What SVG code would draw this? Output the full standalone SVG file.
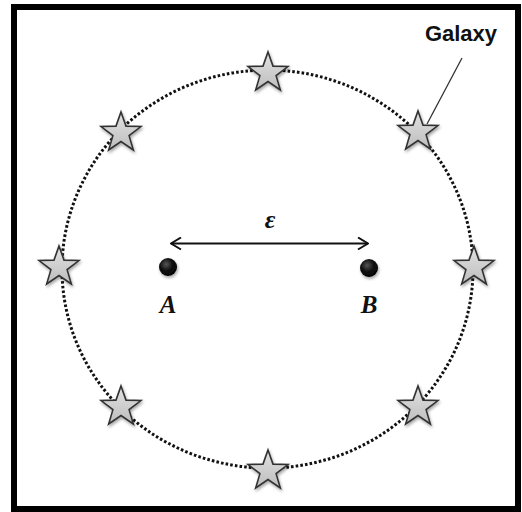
<svg xmlns="http://www.w3.org/2000/svg" width="522" height="512" viewBox="0 0 522 512">
<defs>
<style>
.star{fill:url(#sg);stroke:#333;stroke-width:1.6;stroke-linejoin:miter;filter:url(#sh)}
.dot{fill:url(#dg);filter:url(#sh)}
.lbl{font-family:"Liberation Serif",serif;font-style:italic;font-weight:bold;font-size:25px;fill:#111;text-anchor:middle}
</style>
<linearGradient id="sg" x1="0" y1="0" x2="0" y2="1">
<stop offset="0" stop-color="#e2e2e2"/><stop offset="1" stop-color="#bdbdbd"/>
</linearGradient>
<radialGradient id="dg" cx="0.4" cy="0.35" r="0.7">
<stop offset="0" stop-color="#555"/><stop offset="0.5" stop-color="#111"/><stop offset="1" stop-color="#000"/>
</radialGradient>
<filter id="sh" x="-40%" y="-40%" width="180%" height="180%">
<feDropShadow dx="1" dy="2" stdDeviation="1.8" flood-color="#000" flood-opacity="0.35"/>
</filter>
<path id="star" d="M0,-21 L5,-6.88 L19.97,-6.49 L8.08,2.63 L12.34,16.99 L0,8.5 L-12.34,16.99 L-8.08,2.63 L-19.97,-6.49 L-5,-6.88 Z"/>
<marker id="ah" viewBox="0 0 12 14" refX="11" refY="7" markerWidth="12" markerHeight="14" markerUnits="userSpaceOnUse" orient="auto-start-reverse">
<path d="M1,1 L11,7 L1,13" fill="none" stroke="#111" stroke-width="2"/>
</marker>
</defs>
<rect x="0" y="0" width="522" height="512" fill="#fff"/>
<rect id="frame" x="14" y="7" width="504" height="502" fill="none" stroke="#000" stroke-width="6"/>
<g id="connectors">
<ellipse id="galaxy-orbit" cx="267.5" cy="269" rx="205.5" ry="199" fill="none" stroke="#111" stroke-width="3" stroke-dasharray="2.6 2.1"/>
<line id="epsilon-arrow" x1="171" y1="243.5" x2="368" y2="243.5" stroke="#111" stroke-width="1.8" marker-start="url(#ah)" marker-end="url(#ah)"/>
<line id="galaxy-leader" x1="462" y1="58" x2="427" y2="124" stroke="#333" stroke-width="1.3"/>
</g>
<g id="star-top"><use href="#star" class="star" x="268" y="73"/></g>
<g id="star-upper-left"><use href="#star" class="star" x="121" y="133"/></g>
<g id="star-upper-right"><use href="#star" class="star" x="418" y="132"/></g>
<g id="star-left"><use href="#star" class="star" x="59" y="267"/></g>
<g id="star-right"><use href="#star" class="star" x="474" y="267"/></g>
<g id="star-lower-left"><use href="#star" class="star" x="121" y="407"/></g>
<g id="star-lower-right"><use href="#star" class="star" x="418" y="407"/></g>
<g id="star-bottom"><use href="#star" class="star" x="268" y="471"/></g>
<g id="node-A"><circle class="dot" cx="168" cy="267" r="9"/><text class="lbl" x="168" y="313">A</text></g>
<g id="node-B"><circle class="dot" cx="369" cy="268" r="9"/><text class="lbl" x="369" y="313">B</text></g>
<g id="epsilon-label"><text x="270" y="228" font-family="Liberation Serif,serif" font-style="italic" font-weight="bold" font-size="26" fill="#111" text-anchor="middle">ε</text></g>
<g id="galaxy-label"><text x="461" y="41" font-family="Liberation Sans,Arial,sans-serif" font-weight="bold" font-size="22" fill="#111" text-anchor="middle">Galaxy</text></g>
</svg>
